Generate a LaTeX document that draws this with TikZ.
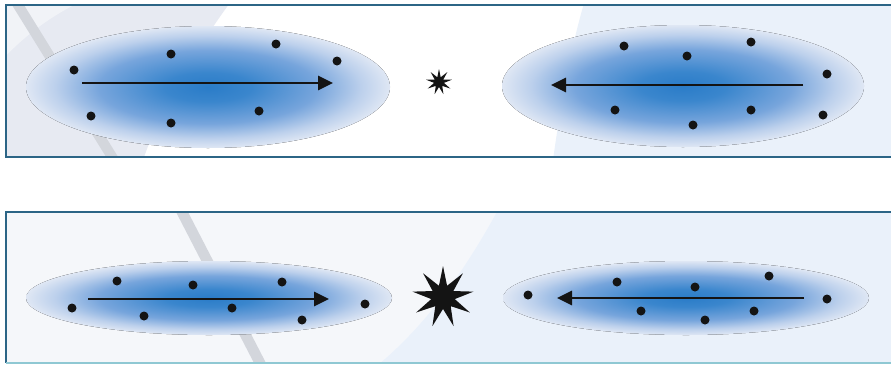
\documentclass[tikz,border=0pt]{standalone}
\usetikzlibrary{shapes.geometric,arrows.meta}
\definecolor{frameA}{HTML}{2C6586}
\definecolor{frameB}{HTML}{8FC8D3}
\definecolor{bgLeft}{HTML}{E7EAF2}
\definecolor{bgRight}{HTML}{EAF1FA}
\definecolor{bgPale}{HTML}{F5F7FA}
\definecolor{stripe}{HTML}{D3D6DC}
\definecolor{cloudA}{HTML}{2A7CC8}
\definecolor{cloudB}{HTML}{3A86CD}
\definecolor{cloudC}{HTML}{77A5DC}
\definecolor{cloudD}{HTML}{BCD0EC}
\definecolor{cloudE}{HTML}{DFE7F4}
\definecolor{dotc}{HTML}{141414}
\pgfdeclareradialshading{cloud}{\pgfpoint{0bp}{0bp}}{%
  color(0bp)=(cloudA); color(6bp)=(cloudB); color(15bp)=(cloudC);
  color(21bp)=(cloudD); color(25bp)=(cloudE); color(50bp)=(cloudE)}
\tikzset{
  dot/.style={circle, fill=dotc, inner sep=0pt, minimum size=9pt},
  cloudfill/.style={shading=cloud},
  flow/.style={line width=2.8pt, draw=dotc, -{Triangle[length=15pt,width=14pt]}},
  burst/.style={star, fill=dotc, inner sep=0pt, star point ratio=2.6},
  framebox/.style={line width=2pt, draw=frameA},
}
\begin{document}
\begin{tikzpicture}[x=1pt, y=-1pt]
\useasboundingbox (0,0) rectangle (891,365);
\fill[white] (0,0) rectangle (891,365);

% ---------- upper panel background ----------
\begin{scope}
  \clip (6,5) rectangle (895,157);
  \fill[white] (6,5) rectangle (895,157);
  \fill[bgLeft] (0,0) -- (232,0) .. controls (195,50) and (160,110) .. (143,160) -- (0,160) -- cycle;
  \fill[bgLeft!60!white] (0,62) .. controls (20,40) and (50,15) .. (85,0) -- (0,0) -- cycle;
  \fill[stripe] (12,5) -- (24,5) -- (120,160) -- (108,160) -- cycle;
  \fill[bgRight] (585,0) .. controls (570,50) and (560,110) .. (553,160) -- (895,160) -- (895,0) -- cycle;
\end{scope}

% ---------- lower panel background ----------
\begin{scope}
  \clip (6,212) rectangle (895,363);
  \fill[bgPale] (6,212) rectangle (895,363);
  \fill[stripe] (176,212) -- (188,212) -- (266,363) -- (254,363) -- cycle;
  \fill[bgRight] (498,210) .. controls (460,280) and (420,330) .. (378,365) -- (895,365) -- (895,210) -- cycle;
\end{scope}

% ---------- frames ----------
\draw[framebox] (895,5) -- (6,5) -- (6,157) -- (895,157);
\draw[framebox] (895,212) -- (6,212) -- (6,363);
\draw[line width=2pt, draw=frameB] (6,363) -- (895,363);

% ---------- clouds ----------
\fill[cloudfill] (208,87) ellipse [x radius=182, y radius=61];
\fill[cloudfill] (683,86) ellipse [x radius=181, y radius=61];
\fill[cloudfill] (209,298) ellipse [x radius=183, y radius=37];
\fill[cloudfill] (686,298) ellipse [x radius=183, y radius=37];

% ---------- upper left group ----------
\node[dot] (a1) at (74,70) {};
\node[dot] (a2) at (171,54) {};
\node[dot] (a3) at (276,44) {};
\node[dot] (a4) at (337,61) {};
\node[dot] (a5) at (91,116) {};
\node[dot] (a6) at (171,123) {};
\node[dot] (a7) at (259,111) {};
\coordinate (as) at (82,83);
\coordinate (ae) at (333,83);
\draw[flow] (as) -- (ae);

% ---------- upper right group ----------
\node[dot] (b1) at (624,46) {};
\node[dot] (b2) at (687,56) {};
\node[dot] (b3) at (751,42) {};
\node[dot] (b4) at (827,74) {};
\node[dot] (b5) at (615,110) {};
\node[dot] (b6) at (693,125) {};
\node[dot] (b7) at (751,110) {};
\node[dot] (b8) at (823,115) {};
\coordinate (bs) at (803,85);
\coordinate (be) at (551,85);
\draw[flow] (bs) -- (be);

% ---------- lower left group ----------
\node[dot] (c1) at (72,308) {};
\node[dot] (c2) at (117,281) {};
\node[dot] (c3) at (144,316) {};
\node[dot] (c4) at (193,285) {};
\node[dot] (c5) at (232,308) {};
\node[dot] (c6) at (282,282) {};
\node[dot] (c7) at (302,320) {};
\node[dot] (c8) at (365,304) {};
\coordinate (cs) at (88,299);
\coordinate (ce) at (329,299);
\draw[flow] (cs) -- (ce);

% ---------- lower right group ----------
\node[dot] (d1) at (528,295) {};
\node[dot] (d2) at (617,282) {};
\node[dot] (d3) at (641,311) {};
\node[dot] (d4) at (695,287) {};
\node[dot] (d5) at (705,320) {};
\node[dot] (d6) at (754,311) {};
\node[dot] (d7) at (769,276) {};
\node[dot] (d8) at (827,299) {};
\coordinate (ds) at (804,298);
\coordinate (de) at (557,298);
\draw[flow] (ds) -- (de);

% ---------- collision bursts ----------
\node[burst, star points=9, minimum size=26pt] (s1) at (439,82) {};
\node[burst, star points=9, minimum size=62pt] (s2) at (443,297) {};
\end{tikzpicture}
\end{document}
